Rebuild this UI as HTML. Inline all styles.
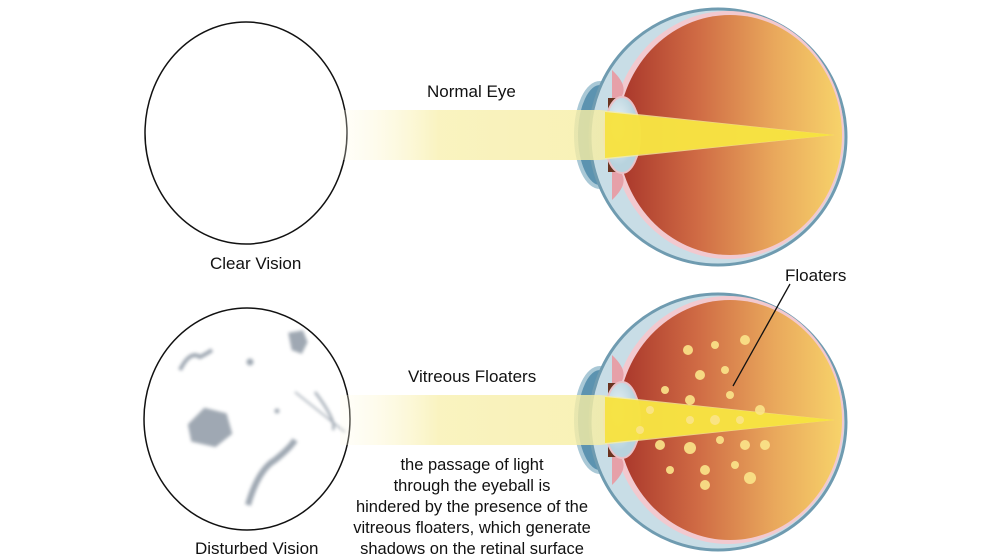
<!DOCTYPE html>
<html><head><style>body{margin:0;background:#fff}svg{display:block}text{font-family:"Liberation Sans",sans-serif;fill:#111}</style></head><body>
<svg width="990" height="557" viewBox="0 0 990 557" xmlns="http://www.w3.org/2000/svg">
<defs>
<filter id="bl"><feGaussianBlur stdDeviation="1.5"/></filter>
<linearGradient id="org" x1="0" x2="1" y1="0" y2="0"><stop offset="0" stop-color="#a8352a"/><stop offset="0.35" stop-color="#cf6a44"/><stop offset="0.7" stop-color="#e9a85c"/><stop offset="1" stop-color="#f7d36a"/></linearGradient>
<linearGradient id="beam" x1="0" x2="1"><stop offset="0" stop-color="#fffbe8" stop-opacity="0.3"/><stop offset="0.2" stop-color="#f8f0b0"/><stop offset="1" stop-color="#f5eb90"/></linearGradient>
<radialGradient id="lens" cx="0.4" cy="0.4"><stop offset="0" stop-color="#eef5f8"/><stop offset="1" stop-color="#b8d3de"/></radialGradient>
<g id="eye">
<ellipse cx="600" cy="135" rx="24" ry="52" fill="#5c93b0" stroke="#a9c8d6" stroke-width="4"/>
<circle cx="718" cy="137" r="128" fill="#c8dde6" stroke="#6f9bb0" stroke-width="3"/>
<ellipse cx="728" cy="135" rx="116" ry="124" fill="#f2c9cf"/>
<ellipse cx="730" cy="135" rx="112" ry="120" fill="url(#org)"/>
<path d="M612 70 Q628 85 622 96 L612 100 Z M612 200 Q628 185 622 174 L612 170 Z" fill="#e6a0a8"/>
<rect x="608" y="98" width="12" height="74" fill="#6a3320"/>
<ellipse cx="622" cy="135" rx="18" ry="38" fill="url(#lens)" stroke="#e9c2c8" stroke-width="2"/>
<polygon points="340,110 600,110 835,135 600,160 340,160" fill="url(#beam)" opacity="0.8"/>
<polygon points="605,112 835,135 605,158" fill="#f6e13a" opacity="0.9"/>
</g>
</defs>
<ellipse cx="246" cy="133" rx="101" ry="111" fill="#fff" stroke="#111" stroke-width="1.5"/>
<ellipse cx="247" cy="419" rx="103" ry="111" fill="#fff" stroke="#111" stroke-width="1.5"/>
<g fill="#8f9aa6" stroke="#8f9aa6" opacity="0.85" filter="url(#bl)">
<path d="M180 370 Q190 350 200 357 Q208 353 212 350" fill="none" stroke-width="4"/>
<path d="M290 334 l12 -2 l4 10 l-5 10 l-8 -3 z" stroke-width="3"/>
<path d="M190 425 l15 -15 l20 5 l5 18 l-15 12 l-22 -5 z" stroke-width="4"/>
<path d="M248 505 Q258 470 275 460 Q290 448 295 440" fill="none" stroke-width="6"/>
<path d="M295 392 L345 432" fill="none" stroke-width="1.5"/>
<path d="M315 392 Q325 405 330 415 Q335 425 333 430" fill="none" stroke-width="2.5"/>
<circle cx="250" cy="362" r="3"/><circle cx="277" cy="411" r="2"/>
</g>
<use href="#eye"/>
<use href="#eye" transform="translate(0,285)"/>
<g fill="#fbe58a" opacity="0.9">
<circle cx="688" cy="350" r="5"/><circle cx="715" cy="345" r="4"/><circle cx="745" cy="340" r="5"/><circle cx="700" cy="375" r="5"/><circle cx="725" cy="370" r="4"/><circle cx="665" cy="390" r="4"/><circle cx="690" cy="400" r="5"/><circle cx="730" cy="395" r="4"/><circle cx="760" cy="410" r="5"/><circle cx="690" cy="420" r="4"/><circle cx="715" cy="420" r="5"/><circle cx="740" cy="420" r="4"/><circle cx="660" cy="445" r="5"/><circle cx="690" cy="448" r="6"/><circle cx="720" cy="440" r="4"/><circle cx="745" cy="445" r="5"/><circle cx="765" cy="445" r="5"/><circle cx="670" cy="470" r="4"/><circle cx="705" cy="470" r="5"/><circle cx="735" cy="465" r="4"/><circle cx="705" cy="485" r="5"/><circle cx="750" cy="478" r="6"/><circle cx="640" cy="430" r="4"/><circle cx="650" cy="410" r="4"/>
</g>
<line x1="790" y1="284" x2="733" y2="386" stroke="#111" stroke-width="1.3"/>
<text x="427" y="97" font-size="17">Normal Eye</text>
<text x="210" y="269" font-size="17">Clear Vision</text>
<text x="785" y="281" font-size="17">Floaters</text>
<text x="408" y="382" font-size="17">Vitreous Floaters</text>
<g font-size="16.5" text-anchor="middle">
<text x="472" y="470">the passage of light</text>
<text x="472" y="491">through the eyeball is</text>
<text x="472" y="512">hindered by the presence of the</text>
<text x="472" y="533">vitreous floaters, which generate</text>
<text x="472" y="554">shadows on the retinal surface</text>
</g>
<text x="195" y="554" font-size="17">Disturbed Vision</text>
</svg>
</body></html>
